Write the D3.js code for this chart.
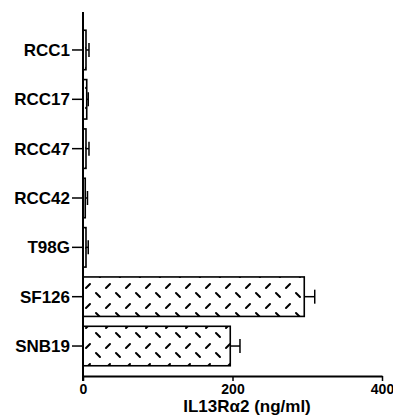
<!DOCTYPE html>
<html lang="en">
<head>
  <meta charset="UTF-8">
  <title>IL13Ra2 by cell line</title>
  <style>
    body { margin: 0; background: #fff; }
    svg text { font-family: "Liberation Sans", Arial, sans-serif; font-weight: bold; fill: #000; }
  </style>
</head>
<body>
  <svg id="chart" width="393" height="419"></svg>
  <script src="https://d3js.org/d3.v7.min.js"></script>
  <script>
    // values
    const cellLines = ["RCC1", "RCC17", "RCC47", "RCC42", "T98G", "SF126", "SNB19"];
    const meanValues = [4, 5, 4, 3, 4, 296, 197];
    const errValues = [4, 2, 4, 3, 3, 14, 13];
    const xTicks = [0, 200, 400];

    const svg = d3.select("#chart");

    const x = d3.scaleLinear().domain([0, 400]).range([83, 382]);
    const y = d3.scaleBand()
      .domain(cellLines)
      .range([25.3, 370.7])
      .paddingInner(0.2)
      .paddingOuter(0.1);

    const axisY = 376;

    // hatch pattern: rows of little dashes leaning both ways
    const pat = svg.append("defs").append("pattern")
      .attr("id", "hatch")
      .attr("patternUnits", "userSpaceOnUse")
      .attr("x", 83).attr("y", 280)
      .attr("width", 20).attr("height", 20);
    pat.append("rect").attr("width", 20).attr("height", 20).attr("fill", "#fff");
    pat.append("path")
      .attr("d", "M3,8 L7,4 M13,13 L17,17")
      .attr("stroke", "#000")
      .attr("stroke-width", 2)
      .attr("stroke-linecap", "round");

    const data = cellLines.map((c, i) => ({ name: c, v: meanValues[i], e: errValues[i] }));

    // bars
    svg.selectAll(".bar")
      .data(data)
      .enter().append("rect")
      .attr("class", "bar")
      .attr("x", x(0))
      .attr("y", d => y(d.name))
      .attr("width", d => x(d.v) - x(0))
      .attr("height", y.bandwidth())
      .attr("fill", "url(#hatch)")
      .attr("stroke", "#000")
      .attr("stroke-width", 1.6);

    // error bars
    const err = svg.selectAll(".err")
      .data(data)
      .enter().append("g")
      .attr("class", "err")
      .attr("stroke", "#000")
      .attr("stroke-width", 1.5);
    err.append("line")
      .attr("x1", d => x(d.v))
      .attr("x2", d => x(d.v + d.e))
      .attr("y1", d => y(d.name) + y.bandwidth() / 2)
      .attr("y2", d => y(d.name) + y.bandwidth() / 2);
    err.append("line")
      .attr("x1", d => x(d.v + d.e))
      .attr("x2", d => x(d.v + d.e))
      .attr("y1", d => y(d.name) + y.bandwidth() / 2 - 7)
      .attr("y2", d => y(d.name) + y.bandwidth() / 2 + 7);

    // y axis
    const gy = svg.append("g")
      .attr("transform", `translate(${x(0)},0)`)
      .call(d3.axisLeft(y).tickSize(11).tickPadding(2));
    gy.select(".domain").remove();
    gy.selectAll("line").attr("stroke-width", 1.5);
    gy.selectAll("text").style("font-size", "17px").attr("dy", "0.36em");
    svg.append("line")
      .attr("x1", x(0)).attr("x2", x(0))
      .attr("y1", 12).attr("y2", axisY + 5)
      .attr("stroke", "#000").attr("stroke-width", 2);

    // x axis
    const gx = svg.append("g")
      .attr("transform", `translate(0,${axisY})`)
      .call(d3.axisBottom(x).tickValues(xTicks).tickSize(5).tickSizeOuter(0).tickPadding(3));
    gx.select(".domain").attr("stroke-width", 2);
    gx.selectAll("line").attr("stroke-width", 1.5);
    gx.selectAll("text").style("font-size", "14px");

    // x title
    svg.append("text")
      .attr("x", 247)
      .attr("y", 412)
      .attr("text-anchor", "middle")
      .style("font-size", "17px")
      .text("IL13Rα2 (ng/ml)");
  </script>
</body>
</html>
